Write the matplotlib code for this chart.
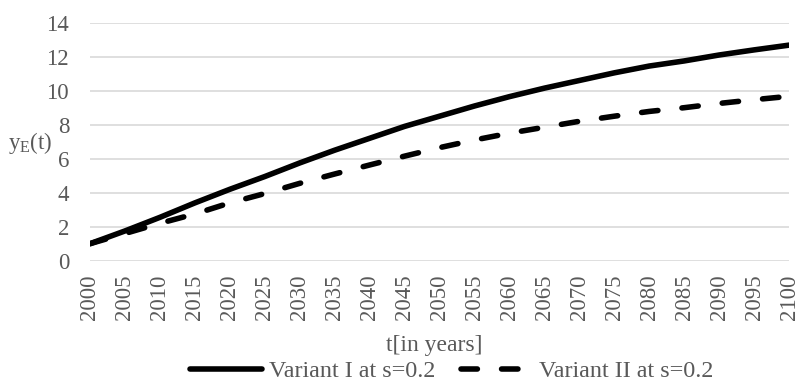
import numpy as np
import matplotlib.pyplot as plt

years = np.arange(2000, 2101, 5)
variant_1 = [1.0, 1.75, 2.55, 3.4, 4.2, 4.95, 5.75, 6.5, 7.2, 7.9, 8.5,
             9.1, 9.65, 10.15, 10.6, 11.05, 11.45, 11.75, 12.1, 12.4, 12.68]
variant_2 = [1.0, 1.6, 2.2, 2.75, 3.4, 3.95, 4.55, 5.1, 5.63, 6.15, 6.65,
             7.1, 7.5, 7.85, 8.2, 8.5, 8.78, 9.0, 9.25, 9.47, 9.67]
labels = ["Variant I at s=0.2", "Variant II at s=0.2"]

plt.rcParams['font.family'] = 'Liberation Serif'
plt.rcParams['mathtext.fontset'] = 'custom'
plt.rcParams['mathtext.rm'] = 'Liberation Serif'
plt.rcParams['mathtext.it'] = 'Liberation Serif:italic'

grey = '#595959'
fs = 16.5

fig = plt.figure(figsize=(7.97, 3.81), dpi=100)
ax = fig.add_axes([90 / 797, 1 - 260.7 / 381, 699 / 797, 238 / 381])

ax.plot(years, variant_1, color='black', lw=4, solid_capstyle='round',
        label=labels[0])
ax.plot(years, variant_2, color='black', lw=4, linestyle=(0, (2.95, 4.35)),
        dash_capstyle='round', label=labels[1])

ax.set_xlim(2000, 2100)
ax.set_ylim(0, 14)
ax.set_xticks(years)
ax.set_yticks(range(0, 15, 2))
ax.tick_params(axis='x', labelrotation=90, length=0, pad=10,
               labelsize=fs, labelcolor=grey)
ax.tick_params(axis='y', length=0, pad=15, labelsize=fs, labelcolor=grey)
ax.grid(axis='y', color='#d9d9d9', lw=1.2)
ax.set_axisbelow(True)
for sp in ax.spines.values():
    sp.set_visible(False)

fig.text(53 / 797, 1 - 143 / 381, 'y$_{\\mathrm{E}}$(t)', ha='right',
         va='center', fontsize=fs, color=grey)
fig.text(434 / 797, 1 - 345 / 381, 't[in years]', ha='center',
         va='center', fontsize=fs + 0.5, color=grey)

fig.legend(loc='center', bbox_to_anchor=(452 / 797, 1 - 371 / 381), ncol=2,
           frameon=False, fontsize=17.4, labelcolor=grey, handlelength=2.95,
           handletextpad=0.3, columnspacing=1.05, borderpad=0)

fig.savefig('out.png', dpi=100)
